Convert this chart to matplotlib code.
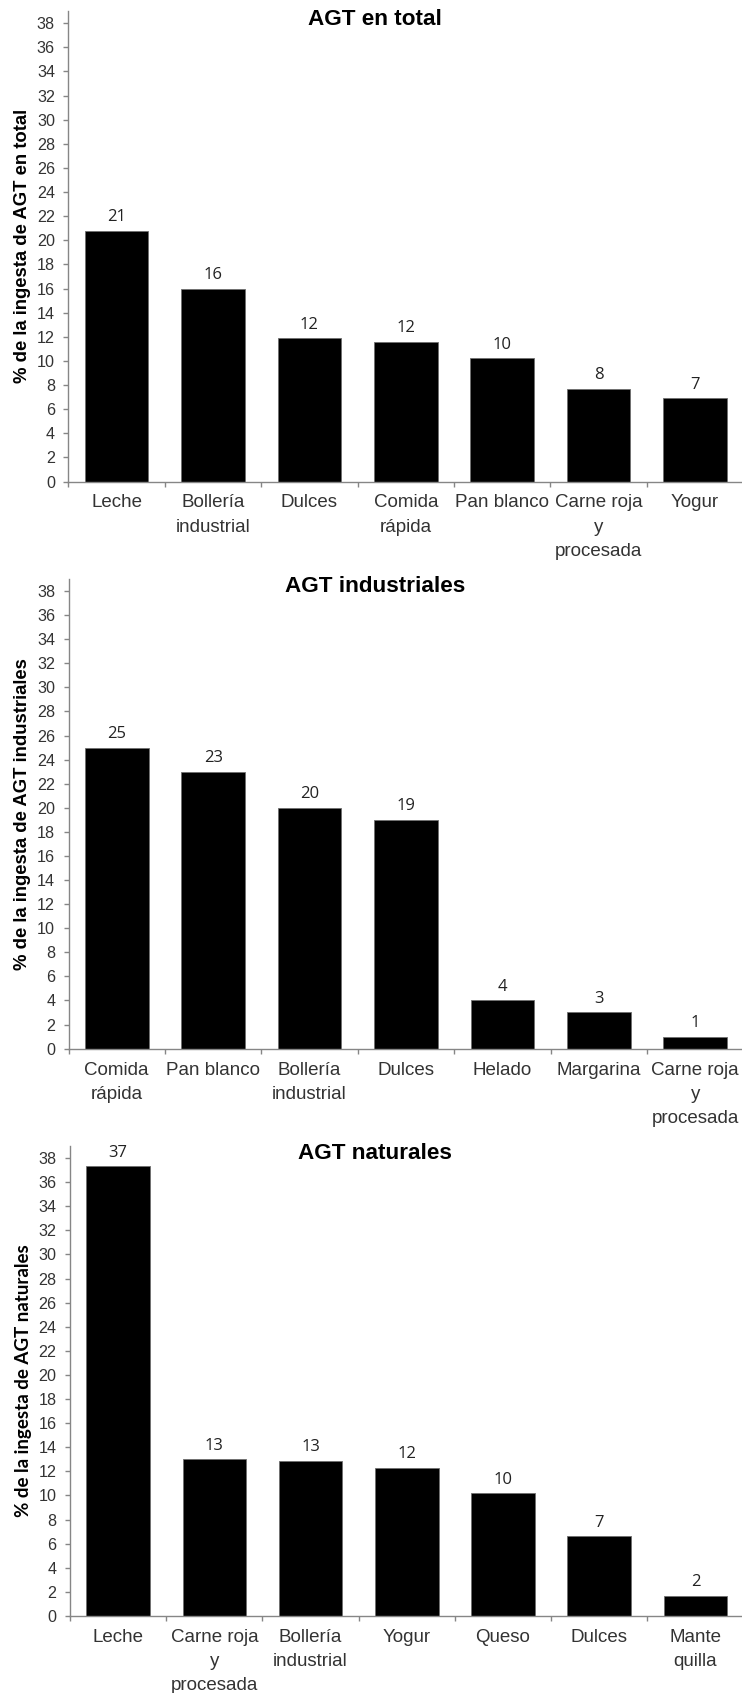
import matplotlib
matplotlib.use("Agg")
import matplotlib.pyplot as plt
import numpy as np

# ---- data ----
cats_total = ["Leche", "Bollería\nindustrial", "Dulces", "Comida\nrápida",
              "Pan blanco", "Carne roja\ny\nprocesada", "Yogur"]
vals_total = [20.8, 16.0, 11.9, 11.6, 10.2, 7.7, 6.9]
lbls_total = ["21", "16", "12", "12", "10", "8", "7"]

cats_ind = ["Comida\nrápida", "Pan blanco", "Bollería\nindustrial", "Dulces",
            "Helado", "Margarina", "Carne roja\ny\nprocesada"]
vals_ind = [25, 23, 20, 19, 4, 3, 1]
lbls_ind = ["25", "23", "20", "19", "4", "3", "1"]

cats_nat = ["Leche", "Carne roja\ny\nprocesada", "Bollería\nindustrial", "Yogur",
            "Queso", "Dulces", "Mante\nquilla"]
vals_nat = [37.3, 13.0, 12.9, 12.3, 10.2, 6.6, 1.7]
lbls_nat = ["37", "13", "13", "12", "10", "7", "2"]

titles = ["AGT en total", "AGT industriales", "AGT naturales"]
ylabels = ["% de la ingesta de AGT en total",
           "% de la ingesta de AGT industriales",
           "% de la ingesta de AGT naturales"]
yticks = list(range(0, 39, 2))

W, H = 742, 1693
fig = plt.figure(figsize=(W / 100, H / 100), dpi=100)

# pixel layout: (left_px, y of zero, y of 39, right_px, title_y, ylabel_x)
layouts = [
    (68.3, 481.5, 11.2, 743.3, 19.6, 22.5),
    (68.5, 1048.6, 579.0, 743.5, 586.8, 22.5),
    (70.0, 1616.0, 1146.0, 743.5, 1153.6, 23.5),
]
panels = [(cats_total, vals_total, lbls_total),
          (cats_ind, vals_ind, lbls_ind),
          (cats_nat, vals_nat, lbls_nat)]

spine_c = "#868686"
txt_c = "#333333"

for i, ((cats, vals, lbls), (l, b, t, r, ty, ylx)) in enumerate(zip(panels, layouts)):
    ax = fig.add_axes([l / W, (H - b) / H, (r - l) / W, (b - t) / H])
    x = np.arange(len(cats))
    ax.bar(x, vals, width=0.66, color="black", edgecolor="#6f6f6f",
           linewidth=0.6, zorder=2)
    for xi, v, s in zip(x, vals, lbls):
        ax.annotate(s, (xi, v), xytext=(0, 6.8), textcoords="offset points",
                    ha="center", va="baseline", fontsize=12,
                    family="Open Sans", color="#222222")
    ax.set_xlim(-0.5, len(cats) - 0.5)
    ax.set_ylim(0, 39)
    ax.set_yticks(yticks)
    ax.set_yticklabels([str(v) for v in yticks], family="Liberation Sans",
                       fontsize=11.6, color=txt_c)
    ax.set_xticks(x)
    ax.set_xticklabels(cats, family="Liberation Sans", fontsize=13.5,
                       color=txt_c, linespacing=1.55)
    ax.set_xticks(np.arange(len(cats) + 1) - 0.5, minor=True)
    ax.tick_params(axis="x", which="major", length=0, pad=9.3)
    ax.tick_params(axis="x", which="minor", length=3.6, width=1.0,
                   color=spine_c, direction="out")
    ax.tick_params(axis="y", which="major", length=3.6, width=1.0,
                   color=spine_c, direction="out", pad=6.0)
    for s in ["top", "right"]:
        ax.spines[s].set_visible(False)
    for s in ["left", "bottom"]:
        ax.spines[s].set_color(spine_c)
        ax.spines[s].set_linewidth(1.0)
    ax.set_facecolor("none")

    fig.text(375 / W, 1 - ty / H, titles[i], ha="center", va="center",
             family="Liberation Sans", fontweight="bold", fontsize=16.2,
             color="black")
    yc = (b + t) / 2
    if i < 2:
        fig.text(ylx / W, 1 - yc / H, ylabels[i], rotation=90, ha="center",
                 va="center", family="Liberation Sans", fontweight="bold",
                 fontsize=13.3, color="black")
    else:
        fig.text(ylx / W, 1 - yc / H, ylabels[i], rotation=90, ha="center",
                 va="center", family="Lato", fontweight="bold",
                 fontsize=13.5, color="black")

fig.savefig("out.png", dpi=100, facecolor="white")
